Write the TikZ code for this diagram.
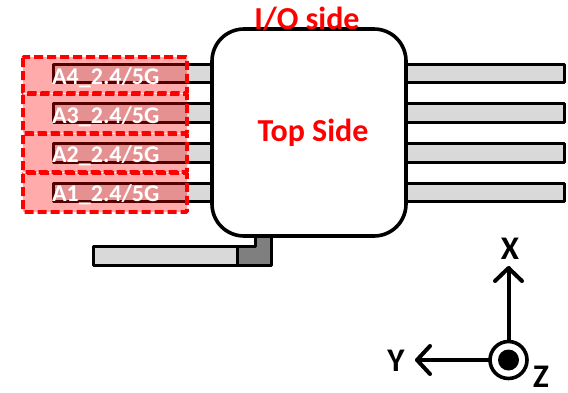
\documentclass[tikz,border=0pt]{standalone}
\usepackage{fontspec}
\setmainfont{Carlito}
\definecolor{bargray}{HTML}{D9D9D9}
\definecolor{darkgray}{HTML}{7F7F7F}
\begin{document}
\begin{tikzpicture}[x=1pt,y=-1pt,
  barbox/.style={draw=black,line width=3pt,fill=bargray,line join=round},
  chip/.style={draw=black,line width=3.6pt,fill=white,rounded corners=32pt},
  zone/.style={draw=red,line width=3.6pt,dash pattern=on 9pt off 4pt,fill=red,fill opacity=.33,draw opacity=1,rounded corners=1pt},
  antlabel/.style={text=white,font=\bfseries\fontsize{24}{24}\selectfont,anchor=west,inner sep=0pt},
  redlabel/.style={text=red,font=\bfseries\fontsize{32}{32}\selectfont,inner sep=0pt},
  axlabel/.style={text=black,font=\bfseries\fontsize{33}{33}\selectfont,inner sep=0pt},
  axis/.style={draw=black,line width=4pt,line cap=round,line join=round}]
\useasboundingbox (0,0) rectangle (568,392);
% bars
\foreach \n/\t/\b in {1/183/201,2/143/162,3/103/122,4/64/82}{
  \path[barbox] (53,\t) rectangle (214,\b);
  \path[barbox] (404,\t) rectangle (564,\b);
}
% lower feed
\path[barbox] (93,246) rectangle (240,265);
\path[draw=black,line width=3pt,fill=darkgray,line join=round]
  (237,246) -- (255,246) -- (255,234) -- (271,234) -- (271,265) -- (237,265) -- cycle;
% chip
\path[chip] (212,29) rectangle (406,236);
\node[redlabel] (top) at (313,133) {Top Side};
\node[redlabel] (io) at (307,19) {I/O side};
% antenna zones
\foreach \n/\t/\b/\y in {4/57/93/78,3/94/133/117,2/134/172/156,1/173/212/195}{
  \path[zone] (23,\t) rectangle (187,\b);
  \node[antlabel] (a\n) at (52,\y) {A\n\_2.4/5G};
}
% axes
\node[circle,draw=black,line width=3.6pt,minimum size=37pt,inner sep=0pt] (orig) at (508.5,360) {};
\node[circle,fill=black,minimum size=21pt,inner sep=0pt] (dot) at (508.5,360) {};
\coordinate (xend) at (508.5,268);
\coordinate (yend) at (417,360);
\draw[axis] (orig.north) -- (xend);
\draw[axis] (495,281) -- (xend) -- (522,281);
\draw[axis] (orig.west) -- (yend);
\draw[axis] (430,346) -- (yend) -- (430,374);
\node[axlabel] (xl) at (510,249) {X};
\node[axlabel] (yl) at (396,361) {Y};
\node[axlabel] (zl) at (541,377) {Z};
\end{tikzpicture}
\end{document}
